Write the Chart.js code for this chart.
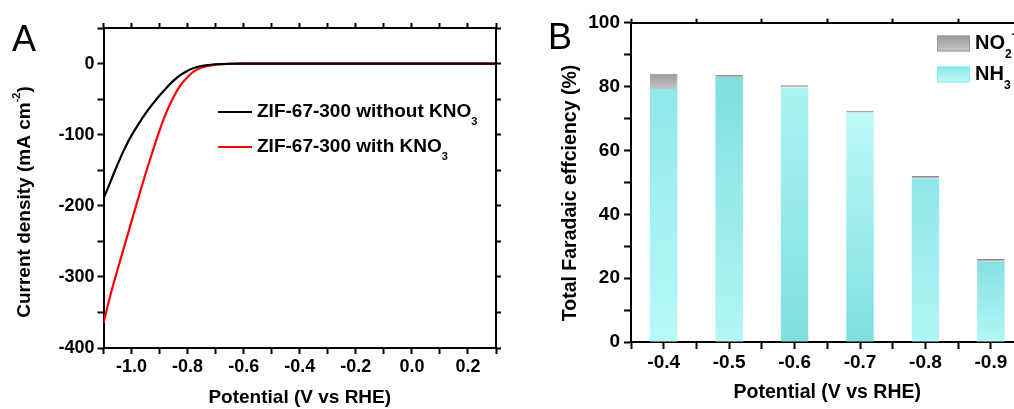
<!DOCTYPE html>
<html>
<head>
<meta charset="utf-8">
<script src="https://cdn.jsdelivr.net/npm/chart.js@4.4.0/dist/chart.umd.min.js"></script>
<style>
  html, body { margin: 0; padding: 0; background: #fff; overflow: hidden; }
  #page { position: relative; width: 1014px; height: 409px; overflow: hidden; }
  #chartA { position: absolute; top: 0; left: 0; }
  #chartB { position: absolute; top: 0; left: 540px; }
  .tag { position: absolute; font: 36px "Liberation Sans", Arial, sans-serif; line-height: 36px; color: #000; }
</style>
</head>
<body>
<div id="page">
  <canvas id="chartA" width="530" height="409"></canvas>
  <canvas id="chartB" width="500" height="409"></canvas>
  <div class="tag" style="left:12px; top:21px;">A</div>
  <div class="tag" style="left:548px; top:19px;">B</div>
</div>
<script>
// Panel A: LSV curves
const potentials = [-1.1, -1.075, -1.05, -1.025, -1.0, -0.975, -0.95, -0.925, -0.9, -0.875, -0.85,
  -0.825, -0.8, -0.775, -0.75, -0.725, -0.7, -0.65, -0.6, -0.5, -0.4, -0.2, 0.0, 0.2, 0.3];
const currentWithout = [-190, -166, -142, -120, -101, -85, -70, -57, -45, -34, -24,
  -16, -10, -6, -3.4, -2, -1, -0.3, -0.1, 0, 0, 0, 0, 0, 0];
const currentWith = [-365, -325, -290, -256, -222, -188, -155, -124, -94, -68, -47,
  -30.5, -18.8, -10.4, -5.6, -3.3, -1.5, -0.5, -0.2, 0, 0, 0, 0, 0, 0];

// Panel B: Faradaic efficiency
const feLabels = ["-0.4", "-0.5", "-0.6", "-0.7", "-0.8", "-0.9"];
const feNH3 = [79.2, 83.0, 79.7, 71.8, 51.2, 25.1];
const feNO2 = [4.8, 0.6, 0.7, 0.6, 0.8, 0.9];

// bar shading (top colour, bottom colour) per bar
const nh3Top = ["#8fe8e8", "#7fdfdf", "#acf3f3", "#bdf9f9", "#8fe6e6", "#85e1e1"];
const nh3Bottom = ["#b9fafa", "#b3f6f6", "#7fdfdf", "#7edfdf", "#b2f6f6", "#b3f7f7"];

const FONT = "'Liberation Sans', Arial, Helvetica, sans-serif";
Chart.defaults.font.family = FONT;
Chart.defaults.font.weight = "bold";
Chart.defaults.color = "#000";
Chart.defaults.animation = false;

const SUB = { "₀": "0", "₁": "1", "₂": "2", "₃": "3", "₄": "4", "₅": "5", "₆": "6", "₇": "7", "₈": "8", "₉": "9" };
const SUP = { "⁻": "-", "²": "2" };

function richRuns(text) {
  const runs = [];
  for (const ch of text) {
    const kind = ch in SUB ? "sub" : ch in SUP ? "sup" : "base";
    const c = kind === "sub" ? SUB[ch] : kind === "sup" ? SUP[ch] : ch;
    const last = runs[runs.length - 1];
    if (last && last.kind === kind) last.text += c;
    else runs.push({ kind, text: c });
  }
  return runs;
}

function runFont(kind, size) {
  const s = kind === "base" ? size : Math.round(size * 0.58);
  return `bold ${s}px ${FONT}`;
}

function richWidth(ctx, text, size) {
  let w = 0;
  for (const r of richRuns(text)) {
    ctx.font = runFont(r.kind, size);
    w += ctx.measureText(r.text).width;
  }
  return w;
}

// draws text at (x, y) = left / vertical middle, with sub/superscripts
function drawRich(ctx, text, x, y, size) {
  ctx.textBaseline = "middle";
  ctx.textAlign = "left";
  for (const r of richRuns(text)) {
    ctx.font = runFont(r.kind, size);
    const dy = r.kind === "sub" ? size * 0.55 : r.kind === "sup" ? -size * 0.42 : 0;
    ctx.fillText(r.text, x, y + dy);
    x += ctx.measureText(r.text).width;
  }
}

// legends and y titles with sub/superscripts
const richPlugin = {
  id: "rich",
  afterDraw(chart, args, opts) {
    const ctx = chart.ctx;
    ctx.save();
    ctx.fillStyle = "#000";
    if (opts.yTitle) {
      const t = opts.yTitle;
      ctx.save();
      ctx.translate(t.x, t.y);
      ctx.rotate(-Math.PI / 2);
      drawRich(ctx, t.text, -richWidth(ctx, t.text, t.size) / 2, 0, t.size);
      ctx.restore();
    }
    const lg = opts.legend;
    if (lg) {
      const sets = chart.data.datasets.slice();
      if (lg.reverse) sets.reverse();
      sets.forEach((ds, i) => {
        const y = lg.y + i * lg.gap;
        if (lg.kind === "line") {
          ctx.strokeStyle = ds.borderColor;
          ctx.lineWidth = ds.borderWidth;
          ctx.beginPath();
          ctx.moveTo(lg.x, y);
          ctx.lineTo(lg.x + lg.len, y);
          ctx.stroke();
        } else {
          const h = lg.boxH, w = lg.len;
          const g = ctx.createLinearGradient(0, y - h / 2, 0, y + h / 2);
          g.addColorStop(0, ds.swatch[0]);
          g.addColorStop(1, ds.swatch[1]);
          ctx.fillStyle = g;
          ctx.fillRect(lg.x, y - h / 2, w, h);
          ctx.strokeStyle = ds.swatch[2];
          ctx.lineWidth = 1;
          ctx.strokeRect(lg.x + 0.5, y - h / 2 + 0.5, w - 1, h - 1);
          ctx.fillStyle = "#000";
        }
        drawRich(ctx, ds.label, lg.x + lg.len + lg.textGap, y, lg.size);
      });
    }
    ctx.restore();
  }
};

const fixW = (w) => (scale) => { scale.width = w; };
const fixH = (h) => (scale) => { scale.height = h; };

function edgeAxis(extra) {
  return Object.assign({
    ticks: { display: false, autoSkip: false },
    grid: { drawOnChartArea: false, tickLength: 5, tickWidth: 2, tickColor: "#000" },
    border: { color: "#000", width: 2 }
  }, extra);
}

// ---------- Panel A ----------
const xFmt = (v) => {
  const n = Math.round(v * 10);
  return n % 2 === 0 ? (Math.abs(v) < 1e-9 ? 0 : v).toFixed(1) : "";
};

new Chart(document.getElementById("chartA"), {
  type: "line",
  data: {
    datasets: [
      {
        label: "ZIF-67-300 without KNO₃",
        data: potentials.map((p, i) => ({ x: p, y: currentWithout[i] })),
        borderColor: "#000000",
        borderWidth: 2.2,
        pointRadius: 0,
        cubicInterpolationMode: "monotone"
      },
      {
        label: "ZIF-67-300 with KNO₃",
        data: potentials.map((p, i) => ({ x: p, y: currentWith[i] })),
        borderColor: "#ff0000",
        borderWidth: 2.2,
        pointRadius: 0,
        cubicInterpolationMode: "monotone"
      }
    ]
  },
  options: {
    responsive: false,
    layout: { padding: 0 },
    plugins: {
      legend: { display: false },
      tooltip: { enabled: false },
      rich: {
        yTitle: { text: "Current density (mA cm⁻²)", x: 25, y: 202, size: 19 },
        legend: { kind: "line", x: 218, y: 112, gap: 35, len: 34, textGap: 5, size: 19 }
      }
    },
    scales: {
      x: {
        type: "linear", min: -1.1, max: 0.3,
        ticks: { stepSize: 0.1, autoSkip: false, maxRotation: 0, minRotation: 0, padding: 2,
          font: { size: 18 }, callback: xFmt },
        grid: { drawOnChartArea: false, tickLength: 6, tickWidth: 2, tickColor: "#000" },
        border: { color: "#000", width: 2 },
        title: { display: true, text: "Potential (V vs RHE)", font: { size: 19 }, padding: { top: 0, bottom: 0 } },
        afterFit: fixH(61)
      },
      y: {
        type: "linear", min: -400, max: 50,
        ticks: { stepSize: 50, autoSkip: false, padding: 3, font: { size: 18 },
          callback: (v) => (v % 100 === 0 ? v : "") },
        grid: { drawOnChartArea: false, tickLength: 6, tickWidth: 2, tickColor: "#000" },
        border: { color: "#000", width: 2 },
        afterFit: fixW(103.5)
      },
      x2: edgeAxis({ type: "linear", position: "top", min: -1.1, max: 0.3,
        ticks: { display: false, stepSize: 0.1, autoSkip: false }, afterFit: fixH(28) }),
      y2: edgeAxis({ type: "linear", position: "right", min: -400, max: 50,
        ticks: { display: false, stepSize: 50, autoSkip: false }, afterFit: fixW(34) })
    }
  },
  plugins: [richPlugin]
});

// ---------- Panel B ----------
function barGradient(c, topVal, bottomVal, top, bottom) {
  const chart = c.chart;
  if (!chart.chartArea) return bottom;
  const y = chart.scales.y;
  const g = chart.ctx.createLinearGradient(0, y.getPixelForValue(topVal), 0, y.getPixelForValue(bottomVal));
  g.addColorStop(0, top);
  g.addColorStop(1, bottom);
  return g;
}

new Chart(document.getElementById("chartB"), {
  type: "bar",
  data: {
    labels: feLabels,
    datasets: [
      {
        label: "NH₃",
        data: feNH3,
        swatch: ["#86e6e6", "#c2fbfb", "#80f0f0"],
        backgroundColor: (c) => barGradient(c, feNH3[c.dataIndex], 0, nh3Top[c.dataIndex], nh3Bottom[c.dataIndex]),
        borderWidth: 0,
        barPercentage: 0.42,
        categoryPercentage: 1
      },
      {
        label: "NO₂⁻",
        data: feNO2,
        swatch: ["#989898", "#c6c6c6", "#9a9a9a"],
        backgroundColor: (c) => barGradient(c, feNH3[c.dataIndex] + feNO2[c.dataIndex], feNH3[c.dataIndex], "#9c9c9c", "#c4c4c4"),
        borderColor: "#8c8c8c",
        borderWidth: { top: 1, left: 0, right: 0, bottom: 0 },
        borderSkipped: false,
        barPercentage: 0.42,
        categoryPercentage: 1
      }
    ]
  },
  options: {
    responsive: false,
    layout: { padding: 0 },
    plugins: {
      legend: { display: false },
      tooltip: { enabled: false },
      rich: {
        yTitle: { text: "Total Faradaic effciency (%)", x: 31, y: 193, size: 19.5 },
        legend: { kind: "box", reverse: true, x: 397, y: 43.5, gap: 31, len: 33, boxH: 16, textGap: 5, size: 20 }
      }
    },
    scales: {
      x: {
        type: "category", stacked: true, weight: 1,
        ticks: { autoSkip: false, maxRotation: 0, minRotation: 0, padding: 2, font: { size: 19 } },
        grid: { offset: false, drawOnChartArea: false, tickLength: 7, tickWidth: 2, tickColor: "#000" },
        border: { color: "#000", width: 2 },
        title: { display: true, text: "Potential (V vs RHE)", font: { size: 19.5 }, padding: { top: 0, bottom: 5 } },
        afterFit: fixH(67)
      },
      xb: edgeAxis({ type: "category", position: "bottom", weight: 0, labels: feLabels, offset: true,
        grid: { offset: true, drawOnChartArea: false, tickLength: 7, tickWidth: 2, tickColor: "#000" },
        afterFit: fixH(0) }),
      y: {
        type: "linear", stacked: true, min: 0, max: 100,
        ticks: { stepSize: 10, autoSkip: false, padding: 4, font: { size: 19 },
          callback: (v) => (v % 20 === 0 ? v : "") },
        grid: { drawOnChartArea: false, tickLength: 7, tickWidth: 2, tickColor: "#000" },
        border: { color: "#000", width: 2 },
        afterFit: fixW(91)
      },
      x2: edgeAxis({ type: "category", position: "top", labels: feLabels, offset: true,
        grid: { offset: true, drawOnChartArea: false, tickLength: 4, tickWidth: 2, tickColor: "#000" },
        afterFit: fixH(22.7) }),
      y2: edgeAxis({ type: "linear", position: "right", min: 0, max: 100,
        ticks: { display: false, stepSize: 10, autoSkip: false }, afterFit: fixW(16.4) })
    }
  },
  plugins: [richPlugin]
});
</script>
</body>
</html>
